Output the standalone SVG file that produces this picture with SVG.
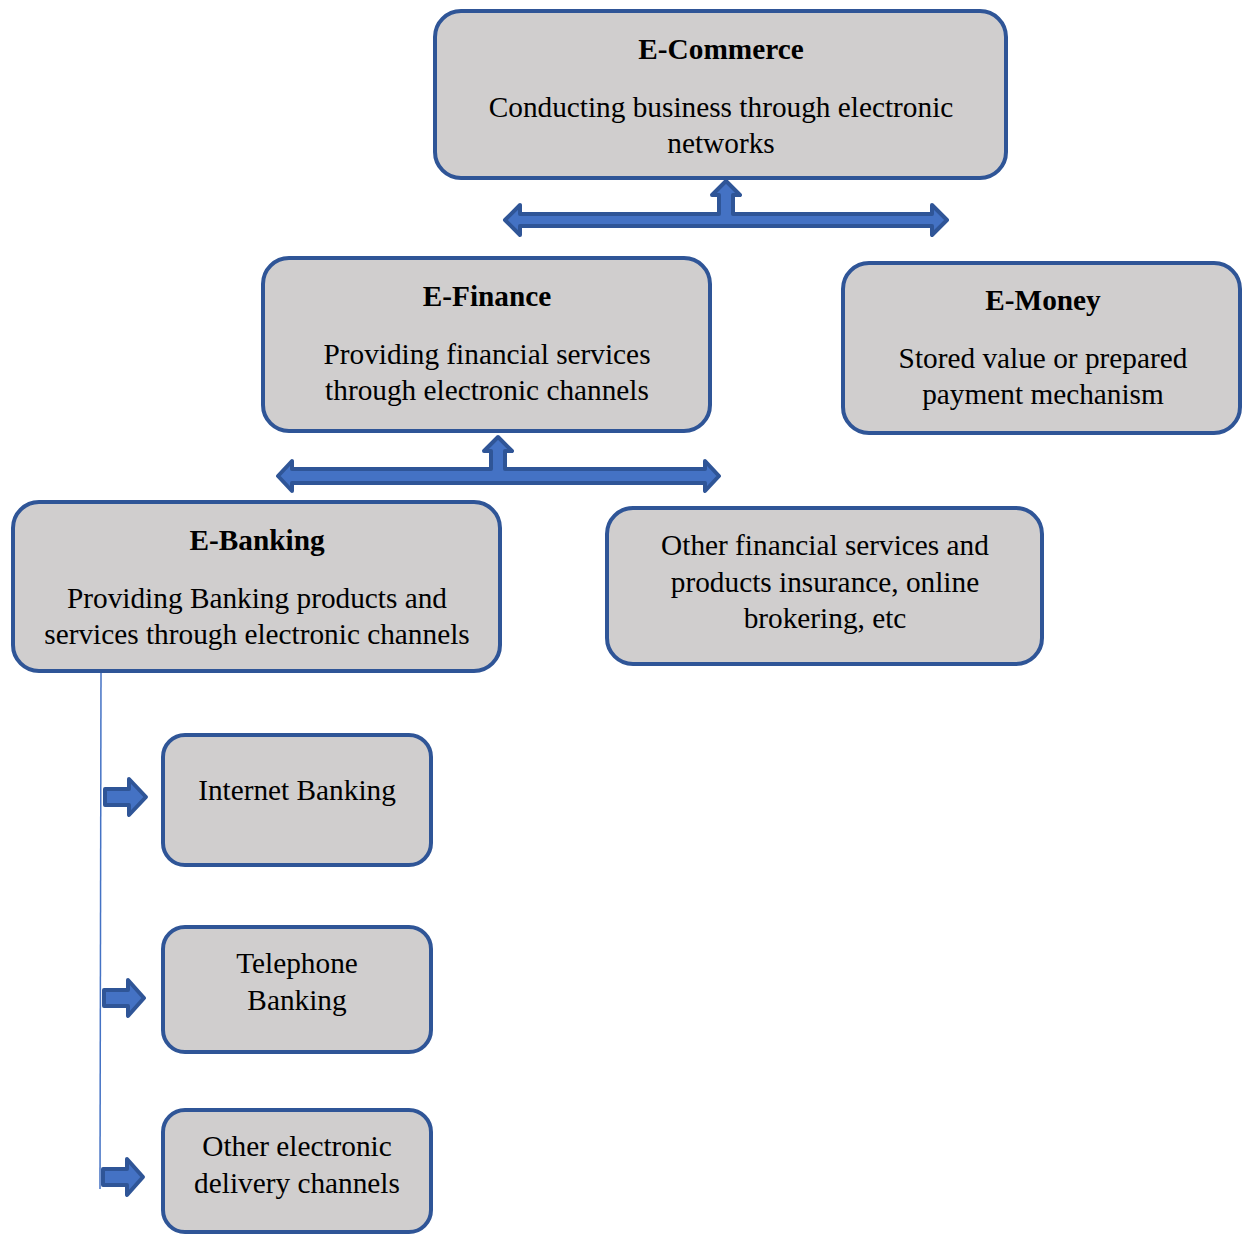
<svg xmlns="http://www.w3.org/2000/svg" width="1242" height="1235" viewBox="0 0 1242 1235">
<style>
.box{fill:#D0CECE;stroke:#2F5597;stroke-width:4}
.arr{fill:#4472C4;stroke:#2F5597;stroke-width:4;stroke-linejoin:round}
.t{font-family:"Liberation Serif","Times New Roman",serif;font-size:29.3px;fill:#000;text-anchor:middle}
.b{font-weight:bold}
</style>
<rect width="1242" height="1235" fill="#fff"/>
<g id="connectors">
<polygon class="arr" points="505,220 520,205 520,214 719,214 719,195 712,195 726,181 740,195 733,195 733,214 932,214 932,205 947,220 932,235 932,226 520,226 520,235"/>
<polygon class="arr" points="278,476 292,461 292,469 491,469 491,451 484,451 498,437 512,451 505,451 505,469 705,469 705,461 719,476 705,491 705,483 292,483 292,491"/>
<line x1="101" y1="672" x2="100" y2="1189" stroke="#4472C4" stroke-width="1.5"/>
<polygon class="arr" points="105,789 129,789 129,779 146,797 129,815 129,805 105,805"/>
<polygon class="arr" points="104,990 128,990 128,980 144,998 128,1016 128,1006 104,1006"/>
<polygon class="arr" points="103,1169 127,1169 127,1159 143,1177 127,1195 127,1185 103,1185"/>
</g>
<g id="ecommerce">
<rect class="box" x="435" y="11" width="571" height="167" rx="26"/>
<text class="t b" x="721" y="59">E-Commerce</text>
<text class="t" x="721" y="117">Conducting business through electronic</text>
<text class="t" x="721" y="153">networks</text>
</g>
<g id="efinance">
<rect class="box" x="263" y="258" width="447" height="173" rx="26"/>
<text class="t b" x="487" y="306">E-Finance</text>
<text class="t" x="487" y="364">Providing financial services</text>
<text class="t" x="487" y="400">through electronic channels</text>
</g>
<g id="emoney">
<rect class="box" x="843" y="263" width="397" height="170" rx="26"/>
<text class="t b" x="1043" y="310">E-Money</text>
<text class="t" x="1043" y="368">Stored value or prepared</text>
<text class="t" x="1043" y="404">payment mechanism</text>
</g>
<g id="ebanking">
<rect class="box" x="13" y="502" width="487" height="169" rx="26"/>
<text class="t b" x="257" y="550">E-Banking</text>
<text class="t" x="257" y="608">Providing Banking products and</text>
<text class="t" x="257" y="644">services through electronic channels</text>
</g>
<g id="otherfinancial">
<rect class="box" x="607" y="508" width="435" height="156" rx="26"/>
<text class="t" x="825" y="555">Other financial services and</text>
<text class="t" x="825" y="592">products insurance, online</text>
<text class="t" x="825" y="628">brokering, etc</text>
</g>
<g id="internetbanking">
<rect class="box" x="163" y="735" width="268" height="130" rx="22"/>
<text class="t" x="297" y="800">Internet Banking</text>
</g>
<g id="telephonebanking">
<rect class="box" x="163" y="927" width="268" height="125" rx="22"/>
<text class="t" x="297" y="973">Telephone</text>
<text class="t" x="297" y="1010">Banking</text>
</g>
<g id="otherelectronic">
<rect class="box" x="163" y="1110" width="268" height="122" rx="22"/>
<text class="t" x="297" y="1156">Other electronic</text>
<text class="t" x="297" y="1193">delivery channels</text>
</g>
</svg>
